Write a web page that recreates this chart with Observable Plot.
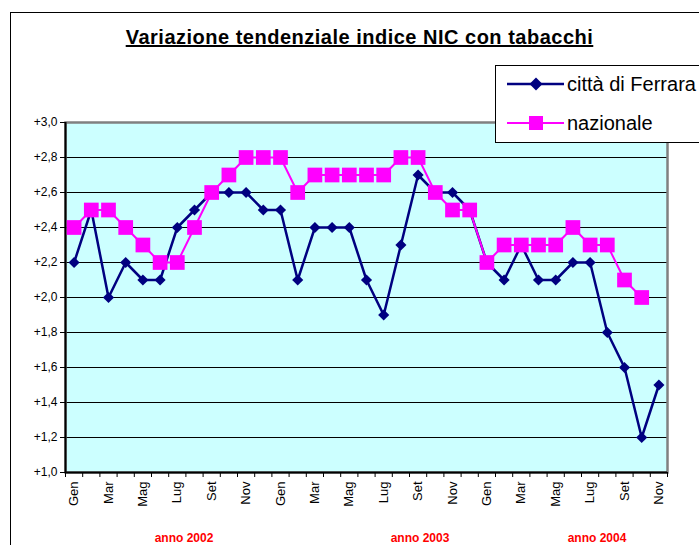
<!DOCTYPE html>
<html><head><meta charset="utf-8">
<script src="https://cdn.jsdelivr.net/npm/d3@7"></script>
<script src="https://cdn.jsdelivr.net/npm/@observablehq/plot@0.6"></script>
<style>
html,body{margin:0;padding:0;background:#fff;overflow:hidden;}
#wrap{position:relative;width:699px;height:545px;overflow:hidden;font-family:"Liberation Sans",Arial,sans-serif;}
#border{position:absolute;left:10px;top:12px;width:760px;height:600px;border-left:1.5px solid #000;border-top:1.5px solid #000;}
#chart{position:absolute;left:0;top:0;}
#title{position:absolute;left:0;width:719px;top:26px;text-align:center;font-weight:bold;font-size:20px;letter-spacing:0.5px;text-decoration:underline;color:#000;white-space:nowrap;}
#legend{position:absolute;left:495px;top:65px;width:260px;height:76px;background:#fff;border:1px solid #000;}
.yr{position:absolute;top:531px;transform:translateX(-50%);color:#ff0000;font-weight:bold;font-size:12px;white-space:nowrap;}
</style></head>
<body>
<div id="wrap">
  <div id="border"></div>
  <div id="chart"></div>
  <div id="title"></div>
  <div id="legend"></div>
</div>
<script>
const title = "Variazione tendenziale indice NIC con tabacchi";
const monthNames = ["Gen","Feb","Mar","Apr","Mag","Giu","Lug","Ago","Set","Ott","Nov","Dic"];
const seriesNames = ["città di Ferrara", "nazionale"];
const yearLabels = ["anno 2002", "anno 2003", "anno 2004"];
const yTicks = [1.0, 1.2, 1.4, 1.6, 1.8, 2.0, 2.2, 2.4, 2.6, 2.8, 3.0];
// Gen 2002 .. Nov 2004
const ferrara = [
  2.2, 2.5, 2.0, 2.2, 2.1, 2.1, 2.4, 2.5, 2.6, 2.6, 2.6, 2.5,
  2.5, 2.1, 2.4, 2.4, 2.4, 2.1, 1.9, 2.3, 2.7, 2.6, 2.6, 2.5,
  2.2, 2.1, 2.3, 2.1, 2.1, 2.2, 2.2, 1.8, 1.6, 1.2, 1.5
];
const nazionale = [
  2.4, 2.5, 2.5, 2.4, 2.3, 2.2, 2.2, 2.4, 2.6, 2.7, 2.8, 2.8,
  2.8, 2.6, 2.7, 2.7, 2.7, 2.7, 2.7, 2.8, 2.8, 2.6, 2.5, 2.5,
  2.2, 2.3, 2.3, 2.3, 2.3, 2.4, 2.3, 2.3, 2.1, 2.0
];
const colFerrara = "#000080", colNaz = "#FF00FF";

const n = ferrara.length;
const periodLabels = d3.range(n).map(i => monthNames[i % 12]);
const labelIdx = d3.range(0, n, 2);
const boundaries = d3.range(n + 1).map(i => i - 0.5);
const rowsF = ferrara.map((v, i) => ({i, v}));
const rowsN = nazionale.map((v, i) => ({i, v}));
const fmt = d => "+" + d.toFixed(1).replace(".", ",");

const chart = Plot.plot({
  width: 699, height: 545,
  marginLeft: 65, marginRight: 32, marginTop: 122, marginBottom: 73,
  x: {type: "linear", domain: [-0.5, n - 0.5]},
  y: {domain: [1, 3]},
  style: {fontFamily: "'Liberation Sans', Arial, sans-serif", background: "transparent", color: "#000", overflow: "visible"},
  marks: [
    Plot.frame({fill: "#CCFFFF", stroke: null}),
    Plot.gridY(yTicks, {stroke: "#000", strokeOpacity: 1, strokeWidth: 1}),
    Plot.frame({stroke: "#808080", strokeWidth: 2.5}),
    Plot.ruleX([-0.5], {stroke: "#000", strokeWidth: 2}),
    Plot.ruleY([1], {stroke: "#000", strokeWidth: 2}),
    Plot.axisY(yTicks, {tickSize: 5, tickPadding: 3, tickFormat: fmt, fontSize: 12, label: null, stroke: "#000"}),
    Plot.axisX(boundaries, {tickSize: 5, tickFormat: () => "", label: null, stroke: "#000"}),
    Plot.axisX(labelIdx, {tickSize: 0, tickPadding: 9, tickRotate: -90, tickFormat: i => periodLabels[i], fontSize: 13, label: null}),
    Plot.line(rowsF, {x: "i", y: "v", stroke: colFerrara, strokeWidth: 2.5}),
    Plot.dot(rowsF, {x: "i", y: "v", symbol: "diamond2", r: 5, fill: colFerrara}),
    Plot.line(rowsN, {x: "i", y: "v", stroke: colNaz, strokeWidth: 2}),
    Plot.dot(rowsN, {x: "i", y: "v", symbol: "square", r: 8.3, fill: colNaz})
  ]
});
document.getElementById("chart").appendChild(chart);
document.getElementById("title").textContent = title;

// year labels
const yearPos = [184, 420, 597];
const wrap = d3.select("#wrap");
yearLabels.forEach((t, k) => {
  wrap.append("div").attr("class", "yr").style("left", yearPos[k] + "px").text(t);
});

// legend
const leg = d3.select("#legend").append("svg").attr("width", 260).attr("height", 76)
  .style("font-family", "'Liberation Sans', Arial, sans-serif");
const entries = [
  {name: seriesNames[0], color: colFerrara, sym: "diamond", w: 2.5, cy: 18},
  {name: seriesNames[1], color: colNaz, sym: "square", w: 2, cy: 57}
];
entries.forEach(e => {
  const g = leg.append("g").attr("transform", `translate(0,${e.cy})`);
  g.append("line").attr("x1", 11).attr("x2", 68).attr("stroke", e.color).attr("stroke-width", e.w);
  if (e.sym === "diamond") {
    g.append("path").attr("d", "M40,-6.5L46.5,0L40,6.5L33.5,0Z").attr("fill", e.color);
  } else {
    g.append("rect").attr("x", 33).attr("y", -7).attr("width", 14).attr("height", 14).attr("fill", e.color);
  }
  g.append("text").attr("x", 71).attr("y", 7).attr("font-size", 20).attr("fill", "#000").text(e.name);
});
</script>
</body></html>
